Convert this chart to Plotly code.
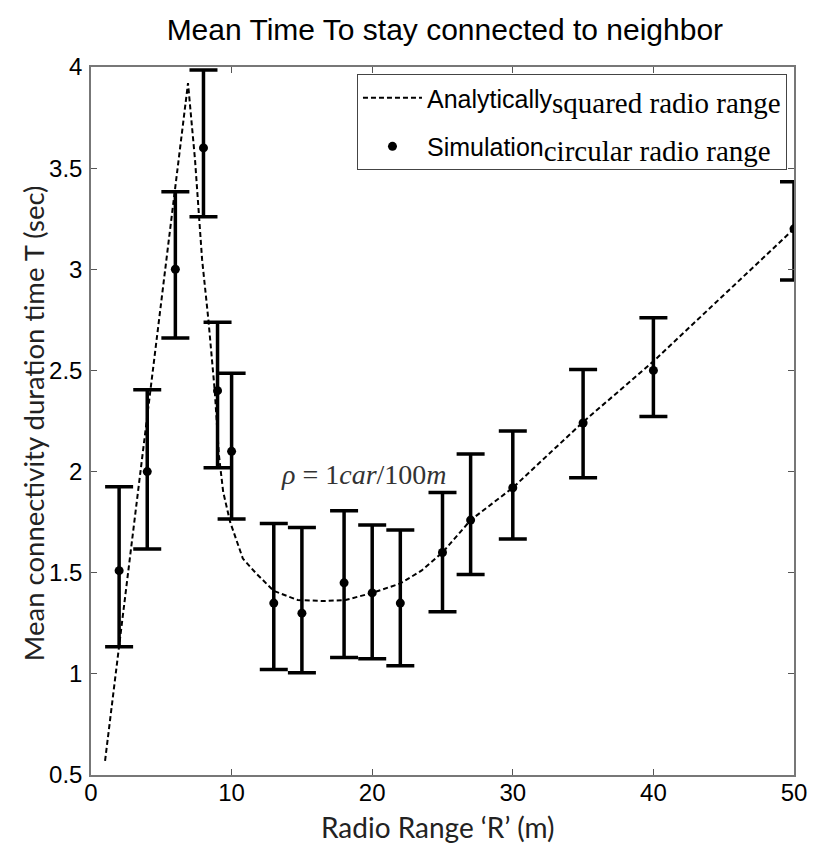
import plotly.graph_objects as go

# Simulation results (circular radio range)
sim_x = [2, 4, 6, 8, 9, 10, 13, 15, 18, 20, 22, 25, 27, 30, 35, 40, 50]
sim_mean = [1.51, 2.00, 3.00, 3.60, 2.40, 2.10, 1.35, 1.30, 1.45, 1.40, 1.35, 1.60, 1.76, 1.92, 2.24, 2.50, 3.20]
sim_upper = [1.925, 2.405, 3.383, 3.985, 2.738, 2.486, 1.743, 1.723, 1.806, 1.736, 1.711, 1.897, 2.087, 2.20, 2.505, 2.76, 3.433]
sim_lower = [1.134, 1.617, 2.66, 3.26, 2.019, 1.765, 1.022, 1.006, 1.081, 1.075, 1.04, 1.307, 1.491, 1.667, 1.97, 2.272, 2.947]

# Analytical curve (squared radio range)
ana_x = [1, 6.9, 7.4, 7.9, 8.35, 8.8, 9.1, 9.4, 9.9, 10.8, 11.7, 13, 14.7, 16.5, 18.1, 20, 22, 23.5, 25, 27, 30, 35, 40, 45, 50]
ana_y = [0.57, 3.92, 3.54, 3.05, 2.75, 2.40, 2.08, 1.90, 1.75, 1.57, 1.50, 1.41, 1.365, 1.36, 1.365, 1.40, 1.447, 1.51, 1.60, 1.76, 1.92, 2.245, 2.545, 2.87, 3.20]

x_ticks = [0, 10, 20, 30, 40, 50]
y_ticks = [0.5, 1, 1.5, 2, 2.5, 3, 3.5, 4]
y_tick_labels = ["0.5", "1", "1.5", "2", "2.5", "3", "3.5", "4"]

err_plus = [u - m for u, m in zip(sim_upper, sim_mean)]
err_minus = [m - l for m, l in zip(sim_mean, sim_lower)]

serif = "font-family:Liberation Serif;font-size:29px"

fig = go.Figure()
fig.add_trace(go.Scatter(
    x=ana_x, y=ana_y, mode="lines",
    line=dict(color="black", width=2, dash="5px,3px"),
    legendgroup="a",
    name="Analytically<sub><span style=\"" + serif + "\">squared radio range</span></sub>",
))
fig.add_trace(go.Scatter(
    x=sim_x, y=sim_mean, mode="markers",
    marker=dict(color="black", size=9, symbol="circle"),
    error_y=dict(type="data", symmetric=False, array=err_plus, arrayminus=err_minus,
                 color="black", thickness=3.5, width=14),
    legendgroup="b",
    name="Simulation<sub><span style=\"" + serif + "\">circular radio range</span></sub>",
))

fig.add_annotation(
    x=19.4, y=1.985, xref="x", yref="y", showarrow=False,
    text="<i>ρ</i> = 1<i>car</i>/100<i>m</i>",
    font=dict(family="Liberation Serif", size=28, color="#333333"),
)
# axis titles
fig.add_annotation(
    x=0.494, y=-0.0735, xref="paper", yref="paper", showarrow=False,
    xanchor="center", yanchor="middle",
    text="Radio Range ‘R’ (m)",
    font=dict(family="Lato", size=28, color="#222"),
)
fig.add_annotation(
    x=-0.0825, y=0.497, xref="paper", yref="paper", showarrow=False,
    xanchor="center", yanchor="middle", textangle=-90,
    text="Mean connectivity duration time T (sec)",
    font=dict(family="Lato", size=27.5, color="#222"),
)

fig.update_layout(
    width=809, height=835,
    margin=dict(l=83, r=23, t=59, b=68, autoexpand=False),
    paper_bgcolor="white", plot_bgcolor="white",
    title=dict(text="Mean Time To stay connected to neighbor", x=0.540, xanchor="center",
               y=0.9737, yanchor="middle",
               font=dict(family="Liberation Sans", size=30, color="black")),
    legend=dict(x=0.99, xanchor="right", y=0.99, yanchor="top",
                bordercolor="#444", borderwidth=1, bgcolor="white",
                font=dict(family="Liberation Sans", size=25, color="black"),
                tracegroupgap=13, itemwidth=59),
    showlegend=True,
)
fig.update_xaxes(
    range=[0, 50], tickmode="array", tickvals=x_ticks,
    ticks="inside", ticklen=6, tickcolor="#555", mirror="ticks",
    showline=True, linecolor="#777", linewidth=1.5,
    showgrid=False, zeroline=False, automargin=False,
    ticklabelstandoff=-5,
    tickfont=dict(family="Liberation Sans", size=24, color="black"),
)
fig.update_yaxes(
    range=[0.5, 4], tickmode="array", tickvals=y_ticks, ticktext=y_tick_labels,
    ticks="inside", ticklen=6, tickcolor="#555", mirror="ticks",
    showline=True, linecolor="#777", linewidth=1.5,
    showgrid=False, zeroline=False, automargin=False,
    ticklabelstandoff=2,
    tickfont=dict(family="Liberation Sans", size=24, color="black"),
)

fig.write_html("out.html")
